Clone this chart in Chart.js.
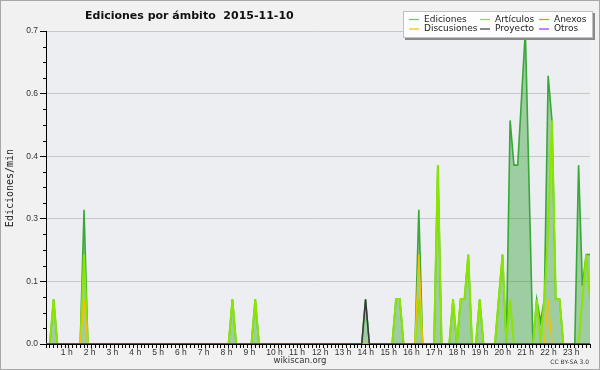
<!DOCTYPE html>
<html>
<head>
<meta charset="utf-8">
<script src="https://cdn.jsdelivr.net/npm/chart.js@4"></script>
<style>
  html, body { margin: 0; padding: 0; background: #f1f1f1; }
  canvas { display: block; }
</style>
</head>
<body>
<canvas id="chart" width="600" height="370"></canvas>
<script>
// Edits per minute, one value per 10-minute slot (144 slots, 6 per hour)
const ediciones = [
    0, 0, 0.1, 0, 0, 0,          // 0 h
    0, 0, 0, 0, 0.3, 0,          // 1 h
    0, 0, 0, 0, 0, 0,            // 2 h
    0, 0, 0, 0, 0, 0,            // 3 h
    0, 0, 0, 0, 0, 0,            // 4 h
    0, 0, 0, 0, 0, 0,            // 5 h
    0, 0, 0, 0, 0, 0,            // 6 h
    0, 0, 0, 0, 0, 0,            // 7 h
    0, 0.1, 0, 0, 0, 0,          // 8 h
    0, 0.1, 0, 0, 0, 0,          // 9 h
    0, 0, 0, 0, 0, 0,            // 10 h
    0, 0, 0, 0, 0, 0,            // 11 h
    0, 0, 0, 0, 0, 0,            // 12 h
    0, 0, 0, 0, 0, 0,            // 13 h
    0.1, 0, 0, 0, 0, 0,          // 14 h
    0, 0, 0.1, 0.1, 0, 0,        // 15 h
    0, 0, 0.3, 0, 0, 0,          // 16 h
    0, 0.4, 0, 0, 0, 0.1,        // 17 h
    0, 0.1, 0.1, 0.2, 0, 0,      // 18 h
    0.1, 0, 0, 0, 0, 0.1,        // 19 h
    0.2, 0, 0.5, 0.4, 0.4, 0.55, // 20 h
    0.7, 0.35, 0, 0.1, 0.05, 0.1, // 21 h
    0.6, 0.5, 0.1, 0.1, 0, 0,    // 22 h
    0, 0, 0.4, 0.13, 0.2, 0.2    // 23 h
];

const articulos = [
    0, 0, 0.1, 0, 0, 0,
    0, 0, 0, 0, 0.2, 0,
    0, 0, 0, 0, 0, 0,
    0, 0, 0, 0, 0, 0,
    0, 0, 0, 0, 0, 0,
    0, 0, 0, 0, 0, 0,
    0, 0, 0, 0, 0, 0,
    0, 0, 0, 0, 0, 0,
    0, 0.1, 0, 0, 0, 0,
    0, 0.1, 0, 0, 0, 0,
    0, 0, 0, 0, 0, 0,
    0, 0, 0, 0, 0, 0,
    0, 0, 0, 0, 0, 0,
    0, 0, 0, 0, 0, 0,
    0, 0, 0, 0, 0, 0,
    0, 0, 0.1, 0.1, 0, 0,
    0, 0, 0.1, 0, 0, 0,
    0, 0.4, 0, 0, 0, 0.1,
    0, 0.1, 0.1, 0.2, 0, 0,
    0.1, 0, 0, 0, 0, 0.1,
    0.2, 0, 0.1, 0, 0, 0,
    0, 0, 0, 0.1, 0, 0.1,
    0.25, 0.5, 0.1, 0.1, 0, 0,
    0, 0, 0, 0.1, 0.2, 0.1
];

const anexos = new Array(144).fill(0);

const discusiones = new Array(144).fill(0);
discusiones[10] = 0.1;  // 1:40
discusiones[98] = 0.2;  // 16:20
discusiones[132] = 0.1; // 22:00

const proyecto = new Array(144).fill(0);
proyecto[84] = 0.1;     // 14:00

const otros = new Array(144).fill(0);

const yTicks = [0, 0.14, 0.28, 0.42, 0.56, 0.7];
const hourLabels = ['1 h', '2 h', '3 h', '4 h', '5 h', '6 h', '7 h', '8 h', '9 h', '10 h', '11 h', '12 h',
    '13 h', '14 h', '15 h', '16 h', '17 h', '18 h', '19 h', '20 h', '21 h', '22 h', '23 h'];

const toPoints = values => values.map((v, i) => ({ x: i, y: v }));

const lineDataset = (label, values, color, width, order) => ({
    label: label,
    data: toPoints(values),
    borderColor: color,
    backgroundColor: color,
    borderWidth: width,
    pointRadius: 0,
    tension: 0,
    fill: false,
    order: order
});

// Background, frame, texts and legend
const framePlugin = {
    id: 'frame',
    beforeDraw(chart) {
        const { ctx, chartArea } = chart;
        ctx.save();
        ctx.fillStyle = '#f1f1f1';
        ctx.fillRect(0, 0, chart.width, chart.height);
        ctx.fillStyle = '#eceef1';
        ctx.fillRect(chartArea.left, chartArea.top, chartArea.right - chartArea.left, chartArea.bottom - chartArea.top);
        ctx.strokeStyle = '#a8a8a8';
        ctx.lineWidth = 1;
        ctx.strokeRect(0.5, 0.5, chart.width - 1, chart.height - 1);
        ctx.restore();
    },
    afterDraw(chart) {
        const { ctx } = chart;
        const y = chart.scales.y;
        ctx.save();

        // minor ticks on the y axis
        ctx.strokeStyle = '#000';
        ctx.lineWidth = 1;
        for (let k = 1; k < 20; k++) {
            if (k % 4 === 0) continue;
            const py = Math.round(y.getPixelForValue(k * 0.035)) + 0.5;
            ctx.beginPath();
            ctx.moveTo(y.right - 3, py);
            ctx.lineTo(y.right, py);
            ctx.stroke();
        }

        // title
        ctx.fillStyle = '#111';
        ctx.font = 'bold 11px "DejaVu Sans"';
        ctx.textAlign = 'left';
        ctx.textBaseline = 'alphabetic';
        ctx.fillText('Ediciones por ámbito  2015-11-10', 85, 18.5);

        // y axis title
        ctx.save();
        ctx.translate(10, 188);
        ctx.rotate(-Math.PI / 2);
        ctx.font = '10px "DejaVu Sans Mono"';
        ctx.fillStyle = '#222';
        ctx.textAlign = 'center';
        ctx.textBaseline = 'middle';
        ctx.fillText('Ediciones/min', 0, 0);
        ctx.restore();

        // footer
        ctx.fillStyle = '#333';
        ctx.font = '8.5px "DejaVu Sans"';
        ctx.textAlign = 'center';
        ctx.textBaseline = 'middle';
        ctx.fillText('wikiscan.org', 300, 361);
        ctx.font = '6px "DejaVu Sans"';
        ctx.textAlign = 'right';
        ctx.fillText('CC BY-SA 3.0', 589, 362);

        // legend box, 3 columns
        const box = { x: 403, y: 11, w: 190, h: 27 };
        ctx.fillStyle = '#8a8a8a';
        ctx.fillRect(box.x + 2, box.y + 2, box.w, box.h);
        ctx.fillStyle = '#fdfdfd';
        ctx.fillRect(box.x, box.y, box.w, box.h);
        ctx.strokeStyle = '#c0c0c0';
        ctx.strokeRect(box.x + 0.5, box.y + 0.5, box.w - 1, box.h - 1);
        const cols = [409, 480, 539];
        const rows = [19.5, 29];
        ctx.font = '9px "DejaVu Sans"';
        ctx.textAlign = 'left';
        ctx.textBaseline = 'middle';
        chart.data.datasets.forEach((ds, i) => {
            const cx = cols[i % 3];
            const cy = rows[Math.floor(i / 3)];
            ctx.strokeStyle = ds.legendColor || ds.borderColor;
            ctx.lineWidth = 1.2;
            ctx.beginPath();
            ctx.moveTo(cx, cy);
            ctx.lineTo(cx + 10, cy);
            ctx.stroke();
            ctx.fillStyle = '#222';
            ctx.fillText(ds.label, cx + 15, cy);
        });
        ctx.restore();
    }
};

const ctx = document.getElementById('chart').getContext('2d');

const chart = new Chart(ctx, {
    type: 'line',
    data: {
        datasets: [
            {
                label: 'Ediciones',
                data: toPoints(ediciones),
                borderColor: '#38a838',
                legendColor: '#66cc66',
                backgroundColor: 'rgba(0, 140, 0, 0.33)',
                borderWidth: 1.6,
                pointRadius: 0,
                tension: 0,
                fill: 'origin',
                order: 10
            },
            lineDataset('Artículos', articulos, '#8ae600', 2, 2),
            lineDataset('Anexos', anexos, '#ff8040', 1.5, 1),
            lineDataset('Discusiones', discusiones, '#f2c200', 1.5, 1),
            lineDataset('Proyecto', proyecto, '#3a3a3a', 1.5, 0),
            lineDataset('Otros', otros, '#9933ff', 1.5, 3)
        ]
    },
    options: {
        responsive: false,
        animation: false,
        layout: {
            padding: { top: 31, right: 10, bottom: 0, left: 0 }
        },
        scales: {
            x: {
                type: 'linear',
                min: 0,
                max: 143,
                afterBuildTicks: scale => {
                    scale.ticks = ediciones.map((v, i) => ({ value: i }));
                },
                afterFit: scale => { scale.height = 26; },
                grid: {
                    drawOnChartArea: false,
                    drawTicks: true,
                    tickLength: 4,
                    tickColor: '#000'
                },
                border: { color: '#000', width: 1 },
                ticks: {
                    autoSkip: false,
                    maxRotation: 0,
                    align: 'start',
                    labelOffset: -8,
                    padding: 0,
                    color: '#333',
                    font: { family: 'Liberation Sans', size: 8.5 },
                    callback: value => (value > 0 && value % 6 === 0) ? hourLabels[value / 6 - 1] : ''
                }
            },
            y: {
                min: 0,
                max: 0.7,
                afterBuildTicks: scale => {
                    scale.ticks = yTicks.map(v => ({ value: v }));
                },
                afterFit: scale => { scale.width = 46; },
                grid: {
                    color: '#c8c8c8',
                    tickColor: '#000',
                    tickLength: 6
                },
                border: { color: '#000', width: 1 },
                ticks: {
                    padding: 2,
                    color: '#333',
                    font: { family: 'Liberation Sans', size: 8.5 },
                    callback: value => value.toFixed(1)
                }
            }
        },
        plugins: {
            legend: { display: false },
            title: { display: false },
            tooltip: { enabled: false }
        }
    },
    plugins: [framePlugin]
});
</script>
</body>
</html>
